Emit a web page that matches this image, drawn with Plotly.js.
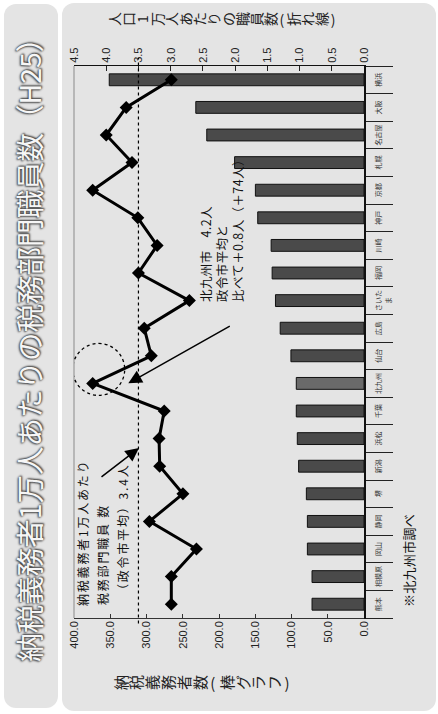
<!DOCTYPE html>
<html><head><meta charset="utf-8">
<script src="https://cdn.plot.ly/plotly-3.0.1.min.js"></script>
<style>
html,body{margin:0;padding:0;width:438px;height:714px;overflow:hidden;background:#fff;}
#rot{position:absolute;left:0;top:0;width:714px;height:438px;transform-origin:0 0;transform:translate(0,714px) rotate(-90deg);}
.panel{position:absolute;background:#e4e4e4;border-radius:12px;}
#chart{position:absolute;left:0;top:0;width:714px;height:438px;}
</style></head>
<body>
<div id="rot">
  <div class="panel" style="left:6px;top:4px;width:704px;height:54px;"></div>
  <div class="panel" style="left:3px;top:62px;width:708px;height:374px;"></div>
  <div id="chart"></div>
</div>
<script>
// ---- data ----
const cities = ['熊本','相模原','岡山','静岡','堺','新潟','浜松','千葉','北九州','仙台','広島','さいたま','福岡','川崎','神戸','京都','札幌','名古屋','大阪','横浜'];
const cityTickLabels = ['熊本','相模原','岡山','静岡','堺','新潟','浜松','千葉','北九州','仙台','広島','さいた<br>ま','福岡','川崎','神戸','京都','札幌','名古屋','大阪','横浜'];
const taxpayers = [71.7, 71.7, 78.1, 78.1, 79.5, 90.2, 92.0, 93.4, 93.4, 100.8, 115.6, 122.1, 126.7, 128.1, 146.6, 149.8, 178.5, 216.9, 232.0, 351.4];
const staffPer10k = [2.99, 2.99, 2.60, 3.33, 2.81, 3.17, 3.18, 3.10, 4.21, 3.30, 3.41, 2.71, 3.50, 3.21, 3.51, 4.21, 3.60, 4.00, 3.69, 2.99];
const cityAverageLine = 3.5;
const highlightCity = '北九州';

const mainTitle = '納税義務者1万人あたりの税務部門職員数（H25）';
const barAxisTitle = '納税義務者数(棒グラフ)';
const lineAxisTitle = '人口1万人あたりの職員数(折れ線)';
const noteLinesA = ['納税義務者1万人あたり', '税務部門職員 数', '（政令市平均）3.4人'];
const noteLinesB = ['北九州市　4.2人', '政令市平均と', '比べて＋0.8人（＋74人）'];
const sourceNote = '※北九州市調べ';

// ---- layout geometry (unrotated chart, 714 x 438) ----
const L = 96, R = 66, T = 74, B = 74, FW = 714, FH = 438;
const W = FW - L - R, H = FH - T - B;
const px = u => (u - L) / W;
const py = v => (T + H - v) / H;
const CJK = '"Noto Sans CJK JP", "Noto Sans", sans-serif';
const NUM = '"Liberation Sans", Arial, sans-serif';

function stackChars(str, uCenter, vStart, pitch, parenPitch, size) {
  const out = [];
  let v = vStart, prevW = null;
  for (const ch of str) {
    const isParen = ch === '(' || ch === ')';
    const w = isParen ? parenPitch : pitch;
    if (prevW !== null) v += (prevW + w) / 2;
    out.push({text: ch, xref: 'paper', yref: 'paper', x: px(uCenter), y: py(v),
      xanchor: 'center', yanchor: 'middle', showarrow: false, textangle: isParen ? 90 : 0,
      font: {family: CJK, size: size, color: '#222'}});
    prevW = w;
  }
  return out;
}
function textLine(str, u, v, size, spacing) {
  return {text: '<span style="letter-spacing:' + spacing + 'px">' + str + '</span>',
    xref: 'paper', yref: 'paper', x: px(u), y: py(v), xanchor: 'left', yanchor: 'middle',
    showarrow: false, font: {family: CJK, size: size, color: '#111'}};
}

const barColors = cities.map(c => c === highlightCity ? '#6a6a6a' : '#4a4a4a');
const hi = cities.indexOf(highlightCity);

const traces = [
  {type: 'bar', x: cities, y: taxpayers, width: 0.43,
   marker: {color: barColors, line: {color: '#111', width: 1}}, hoverinfo: 'none'},
  {type: 'scatter', mode: 'lines+markers', x: cities, y: staffPer10k, yaxis: 'y2',
   line: {color: '#000', width: 3}, marker: {symbol: 'diamond', size: 10, color: '#000'}, hoverinfo: 'none'}
];

const annotations = [].concat(
  stackChars(barAxisTitle, 31.5, 120, 15.9, 10.7, 15),
  stackChars(lineAxisTitle, 695, 114, 14.2, 8.5, 14),
  [textLine(noteLinesA[0], 106, 82, 12, 1.8),
   textLine(noteLinesA[1], 107, 102, 12, 1.8),
   textLine(noteLinesA[2], 116, 122, 12, 1.8),
   textLine(noteLinesB[0], 410, 205, 12.5, 0.4),
   textLine(noteLinesB[1], 410, 221, 12.5, 0.4),
   textLine(noteLinesB[2], 410, 237, 12.5, 0.4),
   textLine(sourceNote, 105, 408.5, 13, 0.3),
   {text: '', showarrow: true, xref: 'paper', yref: 'paper', x: px(330.7), y: py(128.3),
    ax: 58, ay: 103, arrowhead: 2, arrowsize: 1.8, arrowwidth: 1.5, arrowcolor: '#000'},
   {text: '', showarrow: true, xref: 'paper', yref: 'paper', x: px(266), y: py(139),
    ax: -30, ay: -39, arrowhead: 2, arrowsize: 1.8, arrowwidth: 1.5, arrowcolor: '#000'}]
);

const shapes = [
  {type: 'line', xref: 'paper', x0: 0, x1: 1, yref: 'paper', y0: 1, y1: 1, line: {color: '#8a8a8a', width: 1}},
  {type: 'line', xref: 'paper', x0: -0.01, x1: 1.015, yref: 'y2', y0: cityAverageLine, y1: cityAverageLine,
   line: {color: '#000', width: 1.2, dash: 'dot'}},
  {type: 'circle', xref: 'x', yref: 'y2', xsizemode: 'pixel', ysizemode: 'pixel',
   xanchor: hi, yanchor: staffPer10k[hi], x0: -12, x1: 40, y0: -32, y1: 20,
   line: {color: '#000', width: 1.3, dash: 'dot'}}
];

const layout = {
  width: FW, height: FH, margin: {l: L, r: R, t: T, b: B, pad: 0},
  paper_bgcolor: 'rgba(0,0,0,0)', plot_bgcolor: 'rgba(0,0,0,0)',
  showlegend: false,
  font: {family: NUM, color: '#222'},
  title: {text: mainTitle, xref: 'container', yref: 'container', x: 0.52, xanchor: 'center',
    y: 1 - 31 / FH, yanchor: 'middle',
    font: {family: CJK, size: 28.5, color: '#f6f6f6',
      shadow: '0px 0px 2px #444, 1px 1px 2px #444, -1px -1px 2px #555'}},
  xaxis: {type: 'category', categoryorder: 'array', categoryarray: cities,
    tickmode: 'array', tickvals: cities, ticktext: cityTickLabels, tickangle: 0,
    ticks: 'outside', tickson: 'boundaries', ticklen: 27, tickwidth: 1, tickcolor: '#222',
    ticklabelstandoff: 7,
    showline: true, linecolor: '#111', linewidth: 2, showgrid: false, zeroline: false,
    tickfont: {family: CJK, size: 7, color: '#333'}, range: [-0.5, cities.length - 0.5]},
  yaxis: {range: [0, 400], tick0: 0, dtick: 50, tickformat: '.1f', ticks: 'inside', ticklen: 4,
    tickcolor: '#333', showline: true, linecolor: '#333', linewidth: 1, showgrid: false, zeroline: false,
    tickfont: {family: NUM, size: 11, color: '#222'}, tickangle: 0},
  yaxis2: {overlaying: 'y', side: 'right', range: [0, 4.5], tick0: 0, dtick: 0.5, tickformat: '.1f',
    ticks: 'inside', ticklen: 5, tickcolor: '#222', showline: true, linecolor: '#111', linewidth: 1,
    showgrid: false, zeroline: false, tickfont: {family: NUM, size: 11, color: '#222'}, tickangle: 0},
  annotations: annotations,
  shapes: shapes
};

Plotly.newPlot('chart', traces, layout, {staticPlot: true, displayModeBar: false, responsive: false});
</script>
</body></html>
